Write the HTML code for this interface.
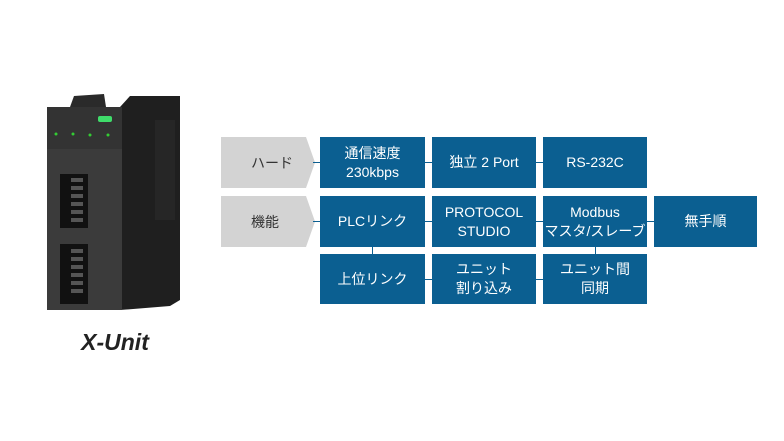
<!DOCTYPE html>
<html><head><meta charset="utf-8"><style>
body{margin:0;width:784px;height:441px;background:#fff;position:relative;overflow:hidden;font-family:"Liberation Sans","Noto Sans CJK JP",sans-serif}
.b{position:absolute;background:#0b5f91;color:#fff;font-size:14px;line-height:19px;display:flex;align-items:center;justify-content:center;text-align:center}
.g{position:absolute;background:#d3d3d3;color:#333;font-size:14px;display:flex;align-items:center;padding-left:30px;box-sizing:border-box;clip-path:polygon(0 0,85px 0,94px 50%,85px 100%,0 100%)}
.l{position:absolute;background:#0b5f91}
.a{position:absolute}
</style></head><body>
<div class="g" style="left:221px;top:137px;width:94px;height:51px">ハード</div>
<div class="g" style="left:221px;top:196px;width:94px;height:51px">機能</div>
<div class="l" style="left:313px;top:162px;width:8px;height:1px"></div>
<div class="l" style="left:313px;top:221px;width:8px;height:1px"></div>
<div class="l" style="left:425px;top:162px;width:8px;height:1px"></div>
<div class="l" style="left:536px;top:162px;width:8px;height:1px"></div>
<div class="l" style="left:425px;top:221px;width:8px;height:1px"></div>
<div class="l" style="left:536px;top:221px;width:8px;height:1px"></div>
<div class="l" style="left:647px;top:221px;width:8px;height:1px"></div>
<div class="l" style="left:425px;top:279px;width:8px;height:1px"></div>
<div class="l" style="left:536px;top:279px;width:8px;height:1px"></div>
<div class="l" style="left:372px;top:247px;width:1px;height:7px"></div>
<div class="l" style="left:595px;top:247px;width:1px;height:7px"></div>
<div class="b" style="left:320px;top:137px;width:105px;height:51px">通信速度<br>230kbps</div>
<div class="b" style="left:432px;top:137px;width:104px;height:51px">独立 2 Port</div>
<div class="b" style="left:543px;top:137px;width:104px;height:51px">RS-232C</div>
<div class="b" style="left:320px;top:196px;width:105px;height:51px">PLCリンク</div>
<div class="b" style="left:432px;top:196px;width:104px;height:51px">PROTOCOL<br>STUDIO</div>
<div class="b" style="left:543px;top:196px;width:104px;height:51px">Modbus<br>マスタ/スレーブ</div>
<div class="b" style="left:654px;top:196px;width:103px;height:51px">無手順</div>
<div class="b" style="left:320px;top:254px;width:105px;height:50px">上位リンク</div>
<div class="b" style="left:432px;top:254px;width:104px;height:50px">ユニット<br>割り込み</div>
<div class="b" style="left:543px;top:254px;width:104px;height:50px">ユニット間<br>同期</div>
<svg class="a" style="left:0;top:0" width="220" height="441">
<polygon points="70,107 74,96 104,94 106,107" fill="#2a2a2a"/>
<polygon points="120,107 130,96 180,96 180,300 170,306 120,310" fill="#1f1f1f"/>
<rect x="47" y="107" width="75" height="203" fill="#3b3b3b"/>
<rect x="47" y="107" width="75" height="42" fill="#333"/>
<rect x="98" y="116" width="14" height="6" rx="2" fill="#3fdc6a"/>
<circle cx="56" cy="134" r="1.5" fill="#3c3"/><circle cx="73" cy="134" r="1.5" fill="#3c3"/>
<circle cx="90" cy="135" r="1.5" fill="#3c3"/><circle cx="108" cy="135" r="1.5" fill="#3c3"/>
<rect x="60" y="174" width="28" height="54" fill="#111"/>
<rect x="60" y="244" width="28" height="60" fill="#111"/>
<g fill="#555">
<rect x="71" y="178" width="12" height="4"/><rect x="71" y="186" width="12" height="4"/><rect x="71" y="194" width="12" height="4"/><rect x="71" y="202" width="12" height="4"/><rect x="71" y="210" width="12" height="4"/><rect x="71" y="218" width="12" height="4"/>
<rect x="71" y="249" width="12" height="4"/><rect x="71" y="257" width="12" height="4"/><rect x="71" y="265" width="12" height="4"/><rect x="71" y="273" width="12" height="4"/><rect x="71" y="281" width="12" height="4"/><rect x="71" y="289" width="12" height="4"/>
</g>
<rect x="155" y="120" width="20" height="100" fill="#262626"/>
<text x="115" y="350" text-anchor="middle" font-family="Liberation Sans" font-weight="bold" font-style="italic" font-size="23" fill="#222">X-Unit</text>
</svg>
</body></html>
